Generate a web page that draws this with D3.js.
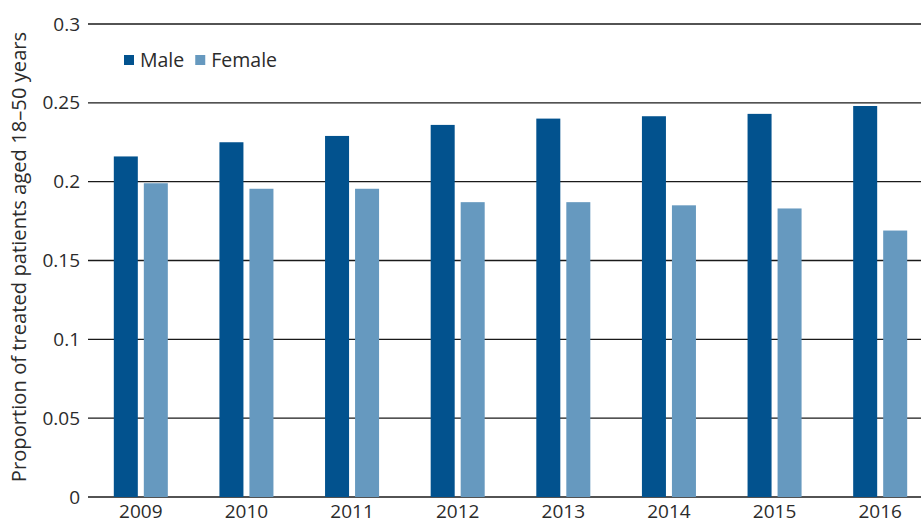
<!DOCTYPE html>
<html>
<head>
<meta charset="utf-8">
<script src="https://cdn.jsdelivr.net/npm/d3@7"></script>
<style>
  body { margin: 0; background: #fff; }
  text { font-family: "Open Sans", "Liberation Sans", sans-serif; fill: #2b2b2b; }
</style>
</head>
<body>
<div id="chart"></div>
<script>
// chart data
const years = ["2009", "2010", "2011", "2012", "2013", "2014", "2015", "2016"];
const series = ["Male", "Female"];
const maleValues = [0.216, 0.225, 0.229, 0.236, 0.240, 0.2415, 0.243, 0.248];
const femaleValues = [0.199, 0.1955, 0.1955, 0.187, 0.187, 0.185, 0.183, 0.169];
const yTicks = [0, 0.05, 0.1, 0.15, 0.2, 0.25, 0.3];
const colors = { Male: "#02528e", Female: "#6699bf" };

const width = 921, height = 524;
const margin = { left: 88, top: 24, bottom: 27 };

const svg = d3.select("#chart").append("svg")
    .attr("width", width)
    .attr("height", height);

const y = d3.scaleLinear()
    .domain([0, 0.3])
    .range([height - margin.bottom, margin.top]);

// band runs a little past the right edge, like the original
const x = d3.scaleBand()
    .domain(years)
    .range([margin.left, 933]);

const x1 = d3.scaleBand()
    .domain(series)
    .range([0, x.bandwidth()])
    .paddingInner(0.2)
    .paddingOuter(0.86);

// gridlines + y labels
const yAxis = svg.append("g");
yAxis.selectAll("line")
    .data(yTicks)
    .join("line")
    .attr("x1", margin.left)
    .attr("x2", width)
    .attr("y1", d => y(d))
    .attr("y2", d => y(d))
    .attr("stroke", "#1a1a1a")
    .attr("stroke-width", 1.3);

yAxis.selectAll("text")
    .data(yTicks)
    .join("text")
    .attr("x", 80)
    .attr("y", d => y(d))
    .attr("dy", "0.35em")
    .attr("text-anchor", "end")
    .attr("font-size", 19)
    .text(d => d);

// bars
const rows = years.map((yr, i) => ({ year: yr, Male: maleValues[i], Female: femaleValues[i] }));

svg.append("g")
    .selectAll("g")
    .data(rows)
    .join("g")
    .attr("transform", d => `translate(${x(d.year)},0)`)
    .selectAll("rect")
    .data(d => series.map(s => ({ key: s, value: d[s] })))
    .join("rect")
    .attr("x", d => x1(d.key))
    .attr("width", x1.bandwidth())
    .attr("y", d => y(d.value))
    .attr("height", d => y(0) - y(d.value))
    .attr("fill", d => colors[d.key]);

// x labels (kept just inside the bottom edge)
svg.append("g")
    .selectAll("text")
    .data(years)
    .join("text")
    .attr("x", d => x(d) + x.bandwidth() / 2)
    .attr("y", 518)
    .attr("text-anchor", "middle")
    .attr("font-size", 19)
    .text(d => d);

// y title
svg.append("text")
    .attr("transform", "translate(26,257) rotate(-90)")
    .attr("text-anchor", "middle")
    .attr("font-size", 20.2)
    .text("Proportion of treated patients aged 18\u201350 years");

// legend
const legend = svg.append("g").attr("transform", "translate(124,60)");
const items = legend.selectAll("g")
    .data(series)
    .join("g");
items.append("rect")
    .attr("width", 10)
    .attr("height", 10)
    .attr("y", -5)
    .attr("fill", d => colors[d]);
items.append("text")
    .attr("x", 16)
    .attr("dy", "0.35em")
    .attr("font-size", 19.5)
    .text(d => d);
// place second item after the first label
let offset = 0;
items.each(function() {
    d3.select(this).attr("transform", `translate(${offset},0)`);
    offset += this.getBBox().width + 11;
});
</script>
</body>
</html>
